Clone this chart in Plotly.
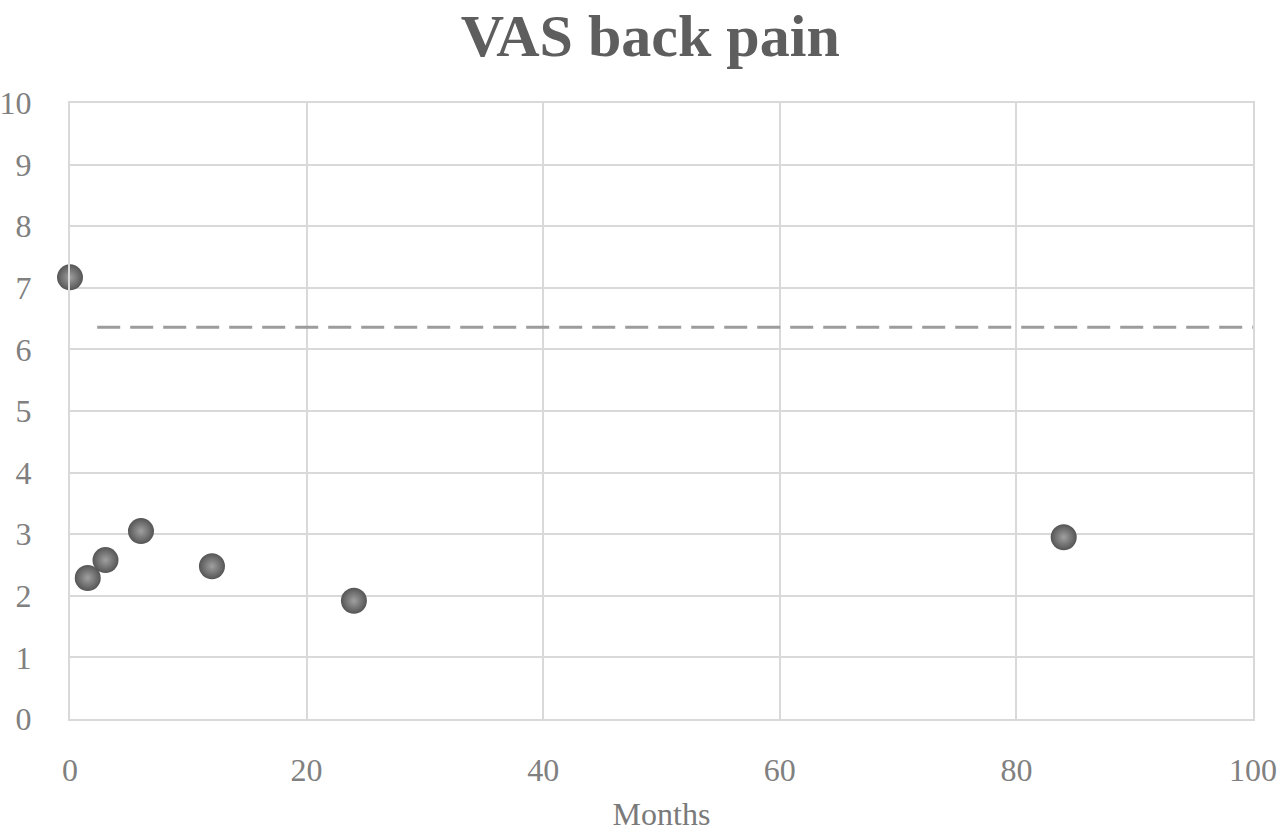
import plotly.graph_objects as go

# Data
months = [0, 1.5, 3, 6, 12, 24, 84]
vas = [7.17, 2.29, 2.58, 3.05, 2.48, 1.92, 2.95]

# Dashed reference line (value and span in data units)
ref_y = 6.36
ref_x = [2.3, 101.6]

x_ticks = [0, 20, 40, 60, 80, 100]
y_ticks = list(range(0, 11))

serif = "Liberation Serif, Times New Roman, serif"

fig = go.Figure()
fig.add_trace(go.Scatter(
    x=months, y=vas, mode="markers",
    marker=dict(size=26, color="#555555",
                gradient=dict(type="radial", color="#a0a0a0"),
                line=dict(width=0)),
    cliponaxis=False, showlegend=False,
))

fig.add_shape(type="line", xref="x", yref="y",
              x0=ref_x[0], x1=ref_x[1], y0=ref_y, y1=ref_y,
              line=dict(color="#9c9c9c", width=3, dash="23px,10px"))

fig.update_layout(
    width=1280, height=832,
    paper_bgcolor="white", plot_bgcolor="white",
    margin=dict(l=70, r=27, t=103, b=113, autoexpand=False),
    title=dict(text="<b>VAS back pain</b>", x=0.508, xanchor="center",
               y=0.958, yanchor="middle",
               font=dict(family=serif, size=60, color="#5e5e5e")),
    xaxis=dict(range=[0, 100], tickvals=x_ticks, showgrid=True, automargin=False,
               gridcolor="#d9d9d9", gridwidth=2, zeroline=False,
               showline=True, linecolor="#d9d9d9", linewidth=2, mirror=True,
               ticks="outside", ticklen=22, tickcolor="rgba(0,0,0,0)",
               tickfont=dict(family=serif, size=32, color="#808080"),
               title=dict(text="Months", standoff=20,
                          font=dict(family=serif, size=32, color="#7a7a7a"))),
    yaxis=dict(range=[0, 10], tickvals=y_ticks, showgrid=True, automargin=False,
               gridcolor="#d9d9d9", gridwidth=2, zeroline=False,
               showline=True, linecolor="#d9d9d9", linewidth=2, mirror=True,
               ticks="outside", ticklen=30, tickcolor="rgba(0,0,0,0)",
               tickfont=dict(family=serif, size=32, color="#808080")),
)

fig.write_html("out.html", config={"displayModeBar": False},
               post_script="document.body.style.margin='0';document.body.style.overflow='hidden';")
